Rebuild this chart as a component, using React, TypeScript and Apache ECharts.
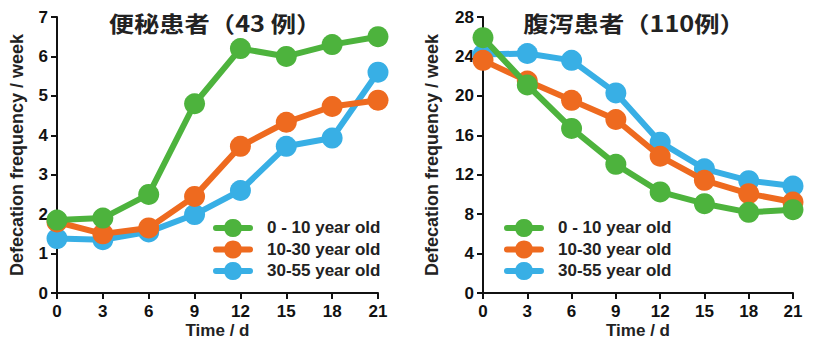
import React, { useEffect, useRef } from "react";
import * as echarts from "echarts";

const days = [0, 3, 6, 9, 12, 15, 18, 21];
const seriesNames = ["0 - 10 year old", "10-30 year old", "30-55 year old"];
const colors = ["#4DB33D", "#EE6A1F", "#38AFE5"];

const constipation010 = [1.85, 1.9, 2.5, 4.8, 6.2, 6.0, 6.3, 6.5];
const constipation1030 = [1.8, 1.5, 1.65, 2.45, 3.72, 4.33, 4.73, 4.89];
const constipation3055 = [1.38, 1.35, 1.55, 1.99, 2.6, 3.72, 3.93, 5.6];

const diarrhea010 = [25.9, 21.1, 16.7, 13.05, 10.25, 9.06, 8.18, 8.45];
const diarrhea1030 = [23.6, 21.5, 19.55, 17.6, 13.87, 11.43, 10.08, 9.23];
const diarrhea3055 = [24.2, 24.3, 23.6, 20.3, 15.3, 12.6, 11.4, 10.85];

const titles = ["便秘患者（43 例）", "腹泻患者（110例）"];
const yAxisName = "Defecation frequency / week";
const xAxisName = "Time / d";

const FONT = "'Liberation Sans', Arial, sans-serif";
const LEGEND_ICON =
  "path://M3,6 H11.515 A9,9 0 0,1 28.485,6 H37 A3,3 0 0,1 37,12 H28.485 A9,9 0 0,1 11.515,12 H3 A3,3 0 0,1 3,6 Z";

export default function App() {
  const ref = useRef<HTMLDivElement>(null);
  useEffect(() => {
    if (!ref.current) return;
    const chart = echarts.init(ref.current, null, { renderer: "svg" });
    const pair = (arr: number[]) => days.map((d, i) => [d, arr[i]]);
    const groups = [
      [constipation010, constipation1030, constipation3055],
      [diarrhea010, diarrhea1030, diarrhea3055],
    ];
    const series: any[] = [];
    groups.forEach((g, gi) => {
      g.forEach((arr, si) => {
        series.push({
          type: "line",
          name: seriesNames[si],
          xAxisIndex: gi,
          yAxisIndex: gi,
          data: pair(arr),
          symbol: "circle",
          symbolSize: 21,
          lineStyle: { width: 6, color: colors[si] },
          itemStyle: { color: colors[si] },
          z: 10 + (2 - si),
        });
      });
    });
    const axisCommon = {
      axisLine: { show: true, lineStyle: { color: "#111", width: 2 } },
      axisTick: { show: true, length: 6, inside: false, lineStyle: { color: "#111", width: 2 } },
      splitLine: { show: false },
      axisLabel: { color: "#111", fontSize: 17, fontWeight: "bold", fontFamily: FONT },
    };
    const grids = [
      { left: 57, width: 321, top: 17, bottom: 47, outerBoundsMode: "none", containLabel: false },
      { left: 483, width: 310, top: 17, bottom: 47, outerBoundsMode: "none", containLabel: false },
    ];
    const yMax = [7, 28];
    const yInt = [1, 4];
    const titleFont = "bold 22px 'Noto Sans CJK SC', sans-serif";
    chart.setOption({
      animation: false,
      backgroundColor: "#fff",
      graphic: [
        {
          type: "text",
          x: 215,
          y: 23,
          scaleX: 1.15,
          style: { text: titles[0], font: titleFont, fill: "#222", align: "center", verticalAlign: "middle" },
        },
        {
          type: "text",
          x: 634,
          y: 23,
          scaleX: 1.15,
          style: { text: titles[1], font: titleFont, fill: "#222", align: "center", verticalAlign: "middle" },
        },
      ],
      legend: [0, 1].map((gi) => ({
        data: seriesNames,
        orient: "vertical",
        left: gi === 0 ? 208 : 499,
        top: 214,
        padding: 5,
        itemWidth: 40,
        itemHeight: 18,
        itemGap: 3.5,
        icon: LEGEND_ICON,
        textStyle: { fontSize: 17, fontWeight: "bold", color: "#222", fontFamily: FONT, padding: [0, 0, 0, 9] },
        selectedMode: false,
      })),
      grid: grids,
      xAxis: [0, 1].map((gi) => ({
        ...axisCommon,
        type: "value",
        gridIndex: gi,
        min: 0,
        max: 21,
        interval: 3,
        name: xAxisName,
        nameLocation: "middle",
        nameGap: 29,
        nameMoveOverlap: false,
        nameTextStyle: { fontSize: 17, lineHeight: 17, fontWeight: "bold", color: "#222", fontFamily: FONT },
        axisLabel: { ...axisCommon.axisLabel, margin: 10 },
      })),
      yAxis: [0, 1].map((gi) => ({
        ...axisCommon,
        type: "value",
        gridIndex: gi,
        min: 0,
        max: yMax[gi],
        interval: yInt[gi],
        name: yAxisName,
        nameLocation: "middle",
        nameGap: gi === 0 ? 31 : 42,
        nameMoveOverlap: false,
        nameTextStyle: { fontSize: 18, fontWeight: "bold", color: "#222", fontFamily: FONT },
        axisLabel: { ...axisCommon.axisLabel, margin: 9 },
      })),
      series,
    });
    return () => chart.dispose();
  }, []);
  return <div ref={ref} style={{ width: 813, height: 340, position: "absolute", left: 0, top: 0 }} />;
}
